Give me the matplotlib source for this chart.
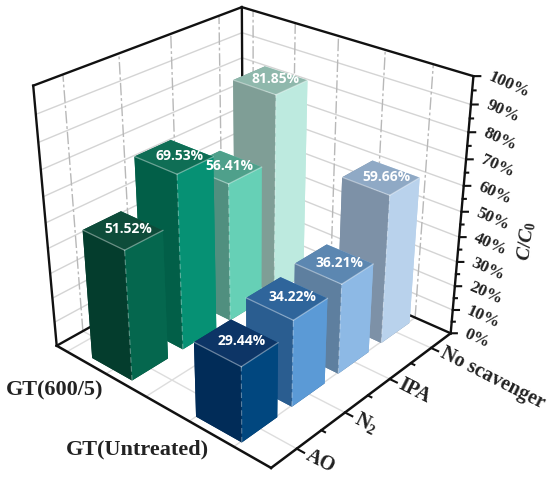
#!/usr/bin/env python3
"""3D bar chart of C/C0 per scavenger for the two GT samples."""

import numpy as np
import matplotlib
matplotlib.use("Agg")
import matplotlib.pyplot as plt
from mpl_toolkits.mplot3d import proj3d

scavengers = ["AO", "N$_\\mathbf{2}$", "IPA", "No scavenger"]
samples = ["GT(Untreated)", "GT(600/5)"]
untreated = [29.44, 34.22, 36.21, 59.66]
gt600 = [51.52, 69.53, 56.41, 81.85]
z_ticks = [0, 10, 20, 30, 40, 50, 60, 70, 80, 90, 100]
wall_y_lines = [0.31, 0.70, 1.10, 1.49, 1.89]

# face colours: (top, left on screen, right on screen)
untreated_colors = [
    ("#0d3566", "#012c58", "#01477f"),
    ("#2f659b", "#2a5d90", "#5b9ad6"),
    ("#5c87b1", "#5e7f9f", "#8db9e5"),
    ("#8fa9c5", "#7d91a7", "#b9d2ec"),
]
gt600_colors = [
    ("#0e4c3a", "#043d2d", "#05674e"),
    ("#0f6e55", "#025f48", "#069174"),
    ("#4fa08b", "#508f7f", "#66d0b6"),
    ("#8fb8ac", "#7f9e96", "#bdeadf"),
]

BAR_DX = 0.70
BAR_DY = 0.40
BLACK = "#111111"
GRID = "#d4d4d4"
GRID_V = "#b8b8b8"
DASH = (0, (9, 2, 2, 2))

plt.rcParams["mathtext.fontset"] = "custom"
plt.rcParams["mathtext.bf"] = "Liberation Serif:bold"
plt.rcParams["mathtext.it"] = "Liberation Serif:italic:bold"
plt.rcParams["mathtext.rm"] = "Liberation Serif:bold"

fig = plt.figure(figsize=(5.5, 4.8), dpi=100)
ax = fig.add_axes([1.1 / 550, 8.6 / 480, 494.8 / 550, 494.8 / 480],
                  projection="3d", computed_zorder=False)
ax.set_xlim(0, 4)
ax.set_ylim(0, 2)
ax.set_zlim(0, 100)
ax.set_box_aspect((0.998, 1.012, 1.003))
ax.view_init(elev=28.688, azim=-138.598)
ax.set_proj_type("persp", focal_length=0.476)
ax.set_axis_off()
ax.patch.set_alpha(0)


def label3d(x, y, z, s, **kwargs):
    # Text3D ignores rotation, so go through the 2D projected position
    px, py, _ = proj3d.proj_transform(x, y, z, ax.get_proj())
    ax.text2D(px, py, s, transform=ax.transData, rotation_mode="anchor", **kwargs)


# walls and floor grid
for z in z_ticks[1:-1]:
    ax.plot([0, 4], [2, 2], [z, z], color=GRID, lw=1, zorder=1)
    ax.plot([4, 4], [0, 2], [z, z], color=GRID, lw=1, zorder=1)
for i in range(4):
    ax.plot([i + 0.5] * 2, [2, 2], [0, 100], color=GRID_V, lw=1, ls=DASH, zorder=1)
    ax.plot([i + 0.5] * 2, [0, 2], [0, 0], color="#dddddd", lw=1, zorder=1)
for y in wall_y_lines:
    ax.plot([4, 4], [y, y], [0, 100], color=GRID_V, lw=1, ls=DASH, zorder=1)
    ax.plot([0, 4], [y, y], [0, 0], color="#dddddd", lw=1, zorder=1)

# back of the box
ax.plot([0, 4], [2, 2], [100, 100], color=BLACK, lw=1.7, zorder=2)
ax.plot([4, 4], [0, 2], [100, 100], color=BLACK, lw=1.7, zorder=2)
ax.plot([4, 4], [2, 2], [0, 100], color=BLACK, lw=1.7, zorder=2)
ax.plot([0, 4], [2, 2], [0, 0], color=BLACK, lw=1.7, zorder=2)
ax.plot([4, 4], [0, 2], [0, 0], color=BLACK, lw=1.7, zorder=2)
ax.plot([0, 0], [2, 2], [0, 100], color=BLACK, lw=1.7, zorder=2)

# z axis with ticks
ax.plot([4, 4], [0, 0], [0, 100], color=BLACK, lw=1.7, zorder=2)
for z in np.arange(0, 101, 5):
    k = 1.0 if z % 10 == 0 else 0.5
    ax.plot([4, 4 + 0.06 * k], [0, -0.033 * k], [z, z], color=BLACK, lw=1.5, zorder=2)
for z in z_ticks:
    label3d(4.13, -0.08, z, f"{z}%", family="Liberation Serif", weight="bold",
            fontsize=12.5, rotation=-24, ha="left", va="center",
            color="#222222", zorder=30)


def draw_bar(ix, y0, value, colors, zorder):
    x0 = ix + 0.13
    top, left, right = colors
    face_colors = [left, top, right, left, left, right]
    ax.bar3d(x0, y0, 0, BAR_DX, BAR_DY, value, color=face_colors, shade=False,
             edgecolor="none", linewidth=0, zorder=zorder)
    edge = dict(color="white", alpha=0.4, lw=0.9, zorder=zorder + 0.1)
    ax.plot([x0, x0 + BAR_DX], [y0, y0], [value, value], **edge)
    ax.plot([x0, x0], [y0, y0 + BAR_DY], [value, value], **edge)
    ax.plot([x0, x0], [y0, y0], [0, value], color="white", alpha=0.35, lw=0.8,
            ls=(0, (5, 3)), zorder=zorder + 0.1)
    label3d(x0 + BAR_DX / 2 + 0.07, y0 + BAR_DY / 2 - 0.02, value, f"{value:.2f}%",
            family="Open Sans", weight="bold", fontsize=10, color="white",
            ha="center", va="center", zorder=20)


# back row first, right to left, so nearer bars cover farther ones
z_order = 3
for row_y, row_values, row_colors in [(1.30, gt600, gt600_colors),
                                      (0.30, untreated, untreated_colors)]:
    for ix in range(3, -1, -1):
        draw_bar(ix, row_y, row_values[ix], row_colors[ix], z_order)
        z_order += 1

# front axes
ax.plot([0, 4], [0, 0], [0, 0], color=BLACK, lw=1.8, zorder=25)
ax.plot([0, 0], [0, 2], [0, 0], color=BLACK, lw=1.8, zorder=25)
for x in [1, 2, 3]:
    ax.plot([x, x], [0, -0.03], [0, 0], color=BLACK, lw=1.5, zorder=25)
for ix, name in enumerate(scavengers):
    ax.plot([ix + 0.5] * 2, [0, -0.06], [0, 0], color=BLACK, lw=1.5, zorder=25)
    label3d(ix + 0.5, -0.085, 0, name, family="Liberation Serif", weight="bold",
            fontsize=14.5, rotation=-27, ha="left", va="center",
            color="#222222", zorder=30)

fig.text(55 / 550, 1 - 390 / 480, samples[1], family="Liberation Serif", weight="bold",
         fontsize=16, ha="center", va="center", color="#222222")
fig.text(137 / 550, 1 - 449 / 480, samples[0], family="Liberation Serif", weight="bold",
         fontsize=16, ha="center", va="center", color="#222222")
fig.text(527 / 550, 1 - 241 / 480, "$\\mathit{C/C}_{\\mathbf{0}}$", fontsize=14,
         rotation=83, ha="center", va="center", color="#222222")

fig.savefig("out.png", dpi=100)
